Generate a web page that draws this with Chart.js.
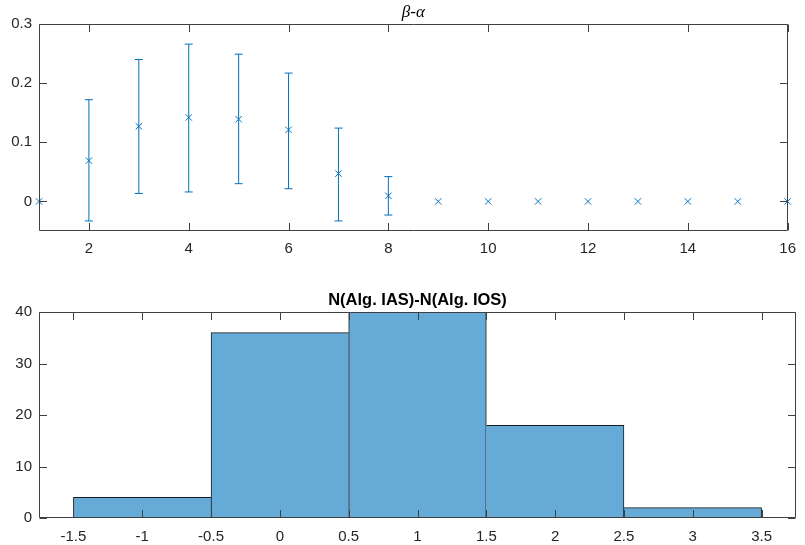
<!DOCTYPE html>
<html>
<head>
<meta charset="utf-8">
<script src="https://cdn.jsdelivr.net/npm/chart.js@4.4.1/dist/chart.umd.min.js"></script>
<style>
  html, body { margin: 0; padding: 0; background: #fff; }
  #wrap { position: relative; width: 805px; height: 545px; }
  .pane { position: absolute; left: 0; width: 805px; }
  #pane-top { top: 0; height: 272px; }
  #pane-bot { top: 272px; height: 273px; }
</style>
</head>
<body>
<div id="wrap">
  <div class="pane" id="pane-top"><canvas id="chart-err"></canvas></div>
  <div class="pane" id="pane-bot"><canvas id="chart-hist"></canvas></div>
</div>
<script>
'use strict';

/* 위쪽: beta-alpha 오차막대 */
const ERR_X    = [1, 2, 3, 4, 5, 6, 7, 8, 9, 10, 11, 12, 13, 14, 15, 16];
const ERR_MEAN = [0, 0.069, 0.127, 0.142, 0.139, 0.121, 0.047, 0.0095, 0, 0, 0, 0, 0, 0, 0, 0];
const ERR_LOW  = [null, -0.033, 0.0135, 0.016, 0.030, 0.0215, -0.033, -0.023, null, null, null, null, null, null, null, null];
const ERR_HIGH = [null, 0.172, 0.240, 0.266, 0.249, 0.217, 0.124, 0.042, null, null, null, null, null, null, null, null];
const ERR_XTICKS = [2, 4, 6, 8, 10, 12, 14, 16];
const ERR_YTICKS = [0, 0.1, 0.2, 0.3];

/* 아래쪽: 히스토그램 */
const HIST_CENTERS = [-1, 0, 1, 2, 3];
const HIST_COUNTS  = [4, 36, 40, 18, 2];
const HIST_XTICKS  = [-1.5, -1, -0.5, 0, 0.5, 1, 1.5, 2, 2.5, 3, 3.5];
const HIST_YTICKS  = [0, 10, 20, 30, 40];

Chart.defaults.font.family = "'Liberation Sans', Arial, sans-serif";
Chart.defaults.font.size   = 15;
Chart.defaults.color       = '#262626';

const COLORS = {
  line : '#0072BD',
  face : 'rgb(102,170,215)',
  edge : '#1a1a1a',
  axis : '#404040',
};
const TICK_LEN = 7.5;

/* ── 축 상자 + 안쪽 눈금 ── */
const boxTicks = {
  id: 'boxTicks',
  afterDatasetsDraw(chart) {
    const { ctx, chartArea: a, scales } = chart;
    const L = Math.round(a.left) + 0.5, R = Math.round(a.right) - 0.5;
    const T = Math.round(a.top) + 0.5,  B = Math.round(a.bottom) - 0.5;
    ctx.save();
    ctx.strokeStyle = COLORS.axis;
    ctx.lineWidth = 1;
    ctx.beginPath();
    scales.x.ticks.forEach(t => {
      const px = Math.round(scales.x.getPixelForValue(t.value)) + 0.5;
      ctx.moveTo(px, B); ctx.lineTo(px, B - TICK_LEN);
      ctx.moveTo(px, T); ctx.lineTo(px, T + TICK_LEN);
    });
    scales.y.ticks.forEach(t => {
      const py = Math.round(scales.y.getPixelForValue(t.value)) + 0.5;
      ctx.moveTo(L, py); ctx.lineTo(L + TICK_LEN, py);
      ctx.moveTo(R, py); ctx.lineTo(R - TICK_LEN, py);
    });
    ctx.rect(L, T, R - L, B - T);
    ctx.stroke();
    ctx.restore();
  },
};

/* ── 축 제목 ── */
function makeTitle(text, font, offset) {
  return {
    id: 'axTitle',
    afterDraw(chart) {
      const { ctx, chartArea: a } = chart;
      ctx.save();
      ctx.font = font;
      ctx.fillStyle = '#000';
      ctx.textAlign = 'center';
      ctx.textBaseline = 'middle';
      ctx.fillText(text, (a.left + a.right) / 2, a.top - offset);
      ctx.restore();
    },
  };
}

/* ── 오차막대 ── */
const errorBars = {
  id: 'errorBars',
  beforeDatasetsDraw(chart) {
    const { ctx, scales: { x, y } } = chart;
    const cap = 4;
    ctx.save();
    ctx.strokeStyle = COLORS.line;
    ctx.lineWidth = 1;
    ctx.beginPath();
    ERR_X.forEach((xv, i) => {
      const lo = ERR_LOW[i], hi = ERR_HIGH[i];
      if (lo == null || hi == null) return;
      const px = x.getPixelForValue(xv);
      const pl = y.getPixelForValue(lo);
      const ph = y.getPixelForValue(hi);
      ctx.moveTo(px, ph); ctx.lineTo(px, pl);
      ctx.moveTo(px - cap, ph); ctx.lineTo(px + cap, ph);
      ctx.moveTo(px - cap, pl); ctx.lineTo(px + cap, pl);
    });
    ctx.stroke();
    ctx.restore();
  },
};

function fixedTicks(values) {
  return scale => { scale.ticks = values.map(v => ({ value: v })); };
}

function drawErrChart() {
  new Chart(document.getElementById('chart-err'), {
    type: 'scatter',
    data: {
      datasets: [{
        data: ERR_X.map((x, i) => ({ x, y: ERR_MEAN[i] })),
        showLine: false,
        pointStyle: 'crossRot',
        pointRadius: 4.5,
        pointBorderWidth: 1,
        borderColor: COLORS.line,
        backgroundColor: COLORS.line,
        clip: false,
      }],
    },
    options: {
      responsive: true, maintainAspectRatio: false, animation: false,
      layout: { padding: { top: 24, right: 9, left: 0, bottom: 0 } },
      plugins: { legend: { display: false }, tooltip: { enabled: false } },
      scales: {
        x: {
          type: 'linear', min: 1, max: 16,
          grid: { display: false, drawTicks: false }, border: { display: false },
          afterBuildTicks: fixedTicks(ERR_XTICKS),
          afterFit: s => { s.height = 41; },
          ticks: { padding: 9, maxRotation: 0, autoSkip: false, callback: v => String(v) },
        },
        y: {
          min: -0.05, max: 0.3,
          grid: { display: false, drawTicks: false }, border: { display: false },
          afterBuildTicks: fixedTicks(ERR_YTICKS),
          afterFit: s => { s.width = 39; },
          ticks: { padding: 7, callback: v => String(v) },
        },
      },
    },
    plugins: [errorBars, boxTicks, makeTitle('β-α', "italic 17px 'Liberation Serif', serif", 11)],
  });
}

function drawHistChart() {
  const n = HIST_COUNTS.length;
  new Chart(document.getElementById('chart-hist'), {
    type: 'bar',
    data: {
      datasets: [{
        data: HIST_CENTERS.map((x, i) => ({ x, y: HIST_COUNTS[i] })),
        backgroundColor: COLORS.face,
        borderColor: COLORS.edge,
        borderSkipped: false,
        /* 공유 모서리는 높은 막대만 그림 */
        borderWidth: ctx => {
          const i = ctx.dataIndex, h = HIST_COUNTS[i];
          return {
            top: 1, bottom: 1,
            left:  (i === 0 || h >= HIST_COUNTS[i - 1]) ? 1 : 0,
            right: (i === n - 1 || h > HIST_COUNTS[i + 1]) ? 1 : 0,
          };
        },
        barThickness: 'flex',
        barPercentage: 1,
        categoryPercentage: 1,
      }],
    },
    options: {
      responsive: true, maintainAspectRatio: false, animation: false,
      layout: { padding: { top: 40, right: 9, left: 0, bottom: 0 } },
      plugins: { legend: { display: false }, tooltip: { enabled: false } },
      scales: {
        x: {
          type: 'linear', min: -1.75, max: 3.75, offset: false,
          grid: { display: false, drawTicks: false, offset: false }, border: { display: false },
          afterBuildTicks: fixedTicks(HIST_XTICKS),
          afterFit: s => { s.height = 27; },
          ticks: { padding: 10, maxRotation: 0, autoSkip: false, callback: v => String(v) },
        },
        y: {
          min: 0, max: 40,
          grid: { display: false, drawTicks: false }, border: { display: false },
          afterBuildTicks: fixedTicks(HIST_YTICKS),
          afterFit: s => { s.width = 39; },
          ticks: { padding: 7, callback: v => String(v) },
        },
      },
    },
    plugins: [boxTicks, makeTitle('N(Alg. IAS)-N(Alg. IOS)', "bold 16.5px 'Liberation Sans', Arial, sans-serif", 12)],
  });
}

document.addEventListener('DOMContentLoaded', () => {
  drawErrChart();
  drawHistChart();
});
</script>
</body>
</html>
